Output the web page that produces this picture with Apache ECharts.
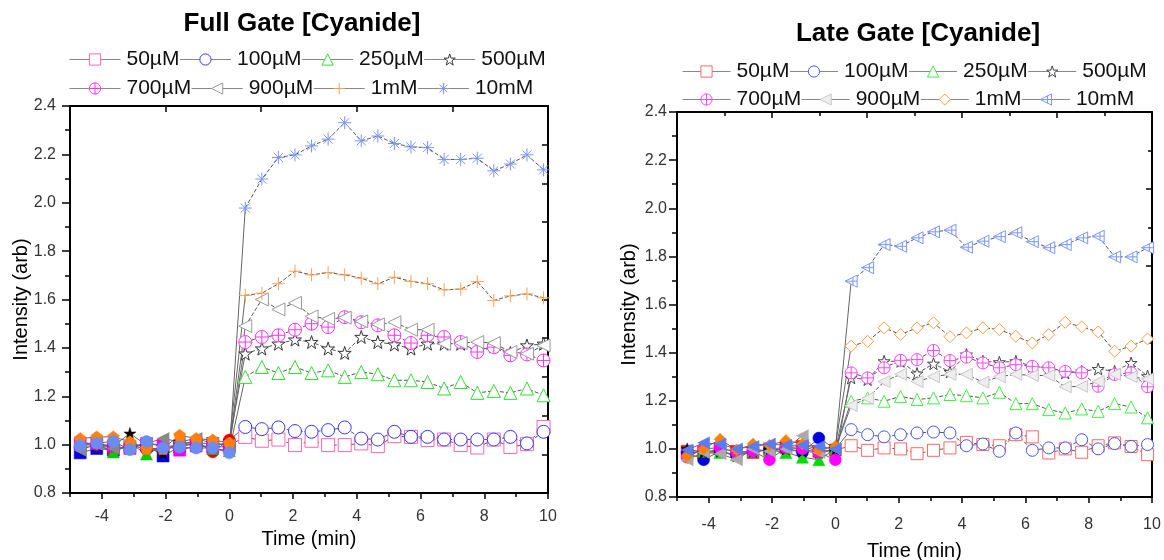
<!DOCTYPE html>
<html><head><meta charset="utf-8">
<script src="https://cdn.jsdelivr.net/npm/echarts@6.0.0/dist/echarts.min.js"></script>
<style>html,body{margin:0;padding:0;background:#fff;}
#l{position:absolute;left:0;top:0;width:600px;height:560px}
#r{position:absolute;left:600px;top:0;width:564px;height:560px}</style>
</head><body><div id="l"></div><div id="r"></div>
<script>
// ---------- DATA ----------
const concentrations = ['50µM','100µM','250µM','500µM','700µM','900µM','1mM','10mM'];
const preTimes  = [-4.68,-4.16,-3.64,-3.12,-2.60,-2.08,-1.56,-1.04,-0.52,0];
const postTimes = [0.50,1.02,1.54,2.06,2.58,3.10,3.62,4.14,4.66,5.18,5.70,6.22,6.74,7.26,7.78,8.30,8.82,9.34,9.86];
const xTickValues = [-4,-2,0,2,4,6,8,10];
const xTickLabels = ['-4','-2','0','2','4','6','8','10'];
const yTickLabels = ['0.8','1.0','1.2','1.4','1.6','1.8','2.0','2.2','2.4'];

// Full Gate: before cyanide (t<=0)
const fullPre50   = [0.966,0.984,0.977,0.991,0.998,0.953,0.991,1.005,1.005,0.998];
const fullPre100  = [0.991,0.998,0.970,0.998,0.980,0.977,1.005,1.012,0.970,1.019];
const fullPre250  = [1.005,1.005,0.970,1.005,0.961,0.991,0.998,1.005,0.984,0.975];
const fullPre500  = [1.012,0.998,0.994,1.046,0.998,0.964,1.012,0.994,0.991,1.012];
const fullPre700  = [1.005,1.005,0.994,0.984,1.005,0.998,0.977,0.994,0.991,0.991];
const fullPre900  = [0.977,1.002,0.984,0.991,1.005,1.025,1.012,1.025,1.005,0.998];
const fullPre1mM  = [1.025,1.032,1.032,1.012,0.984,0.984,1.039,1.025,1.019,1.008];
const fullPre10mM = [0.996,1.006,1.013,0.979,1.013,0.986,0.989,0.986,0.986,0.966];
// Full Gate: after cyanide
const fullPost50   = [1.032,1.016,1.021,0.998,1.016,0.998,0.998,1.005,0.994,1.035,1.032,1.019,1.021,0.998,0.988,1.021,0.990,1.002,1.073];
const fullPost100  = [1.073,1.064,1.071,1.056,1.053,1.060,1.071,1.025,1.021,1.053,1.032,1.032,1.021,1.021,1.021,1.021,1.032,1.005,1.053];
const fullPost250  = [1.280,1.321,1.296,1.321,1.296,1.307,1.280,1.300,1.291,1.266,1.266,1.259,1.232,1.259,1.214,1.222,1.214,1.232,1.204];
const fullPost500  = [1.376,1.397,1.417,1.434,1.424,1.397,1.379,1.445,1.424,1.414,1.397,1.417,1.417,1.417,1.390,1.406,1.379,1.410,1.417];
const fullPost700  = [1.424,1.445,1.452,1.475,1.500,1.486,1.527,1.506,1.493,1.452,1.420,1.452,1.445,1.424,1.383,1.403,1.369,1.373,1.348];
const fullPost900  = [1.490,1.600,1.559,1.586,1.530,1.520,1.525,1.510,1.497,1.506,1.475,1.475,1.417,1.420,1.424,1.420,1.383,1.376,1.410];
const fullPost1mM  = [1.617,1.626,1.665,1.717,1.702,1.711,1.702,1.688,1.665,1.692,1.675,1.665,1.640,1.643,1.674,1.596,1.615,1.623,1.607];
const fullPost10mM = [1.978,2.098,2.187,2.198,2.235,2.263,2.331,2.256,2.276,2.245,2.231,2.228,2.179,2.179,2.184,2.132,2.160,2.198,2.136];

// Late Gate: before cyanide
const latePre50   = [0.990,0.985,1.000,0.990,0.985,1.000,1.005,1.010,0.990,0.995];
const latePre100  = [0.985,0.955,0.990,0.975,0.990,0.995,1.000,0.985,1.045,1.000];
const latePre250  = [0.980,0.990,0.985,0.975,0.990,0.995,0.985,0.965,0.955,1.000];
const latePre500  = [1.000,0.985,0.990,0.970,0.990,0.995,1.000,0.990,0.985,0.995];
const latePre700  = [0.965,1.000,1.005,0.985,0.990,0.955,1.005,1.000,0.985,0.955];
const latePre900  = [0.955,0.985,0.980,0.955,1.000,0.990,1.000,1.055,0.985,1.000];
const latePre1mM  = [0.970,1.000,1.040,0.995,1.020,1.015,1.035,1.020,0.995,1.010];
const latePre10mM = [0.995,1.025,1.020,1.000,1.010,1.020,1.015,1.015,1.010,1.000];
// Late Gate: after cyanide
const latePost50   = [1.013,0.994,1.004,1.000,0.980,0.994,1.004,1.027,1.018,1.013,1.059,1.050,0.983,1.000,0.986,1.013,1.025,1.010,0.976];
const latePost100  = [1.080,1.059,1.050,1.059,1.066,1.070,1.066,1.013,1.020,0.990,1.066,0.994,1.004,1.004,1.038,1.000,1.022,1.010,1.018];
const latePost250  = [1.198,1.212,1.198,1.218,1.205,1.212,1.226,1.221,1.212,1.235,1.188,1.188,1.163,1.149,1.166,1.156,1.188,1.174,1.129];
const latePost500  = [1.295,1.288,1.364,1.364,1.313,1.354,1.320,1.392,1.364,1.360,1.364,1.343,1.337,1.316,1.322,1.332,1.322,1.357,1.302];
const latePost700  = [1.316,1.295,1.337,1.368,1.371,1.409,1.367,1.381,1.357,1.337,1.350,1.343,1.337,1.322,1.316,1.260,1.309,1.316,1.258];
const latePost900  = [1.180,1.210,1.280,1.310,1.280,1.300,1.310,1.310,1.277,1.300,1.310,1.305,1.305,1.258,1.260,1.280,1.310,1.300,1.290];
const latePost1mM  = [1.427,1.447,1.503,1.475,1.503,1.524,1.466,1.482,1.503,1.496,1.468,1.440,1.475,1.526,1.507,1.486,1.406,1.427,1.457];
const latePost10mM = [1.697,1.753,1.849,1.842,1.877,1.902,1.909,1.838,1.863,1.882,1.898,1.861,1.836,1.849,1.877,1.884,1.798,1.798,1.836];

// ---------- STYLE ----------
const FONT = 'Liberation Sans, Arial, sans-serif';
const SYM = {
  square: 'rect', circle: 'circle', triangle: 'triangle', diamond: 'diamond',
  star: 'path://M5,0L6.2,3.6L10,3.6L7,5.9L8.1,9.6L5,7.4L1.9,9.6L3,5.9L0,3.6L3.8,3.6Z',
  circlePlus: 'path://M0,5A5,5,0,1,1,10,5A5,5,0,1,1,0,5ZM5,0L5,10M0,5L10,5',
  triLeft: 'path://M0,5L10,0L10,10Z',
  triLeftPlus: 'path://M0,5L10,0L10,10ZM6.5,1.5L6.5,8.5M0,5L10,5',
  plus: 'path://M5,0L5,10M0,5L10,5',
  asterisk: 'path://M5,0L5,10M0,5L10,5M1.5,1.5L8.5,8.5M8.5,1.5L1.5,8.5',
  pentagon: 'path://M5,0L10,3.8L8.1,10L1.9,10L0,3.8Z'
};

function fmtX(v){ const i = xTickValues.indexOf(Math.round(v)); return i >= 0 ? xTickLabels[i] : ''; }
function fmtY(v){ const r=Math.round(v*10); return (r%2===0) ? (yTickLabels[(r-8)/2] || '') : ''; }

function build(cfg){
  const series = [];
  for (let i=0;i<8;i++){
    series.push({
      type:'line', name: concentrations[i], silent:true, animation:false,
      data: postTimes.map((t,j)=>[t, cfg.post[i][j]]),
      symbol: cfg.postSym[i], symbolSize: cfg.postSize,
      itemStyle:{color: cfg.postFill[i], borderColor: cfg.postColor[i], borderWidth:1},
      lineStyle:{color:'#555', width:1, type:[4,2]},
      emphasis:{disabled:true}
    });
  }
  for (let i=0;i<8;i++){
    series.push({
      type:'line', name:'pre'+i, silent:true, animation:false,
      data: preTimes.map((t,j)=>[t, cfg.pre[i][j]]).concat([{value:[postTimes[0], cfg.post[i][0]], symbol:'none'}]),
      symbol: cfg.preSym[i], symbolSize: cfg.preSize,
      itemStyle:{color: cfg.preColor[i], borderColor: cfg.preColor[i], borderWidth:0.5},
      lineStyle:{color:'#666', width:1},
      emphasis:{disabled:true}
    });
  }
  const axLine = {show:true, onZero:false, lineStyle:{color:'#000', width:2}};
  const legendBase = {
    left: cfg.legendLeft, itemGap: 0, itemWidth: cfg.itemWidth, itemHeight: 14,
    selectedMode:false, padding:[5,0,5,0],
    textStyle:{fontSize:21, color:'#111', fontFamily:FONT, padding:[0,0,0,1]},
    lineStyle:{color:'#888', width:1, type:'solid'},
    itemStyle:{borderWidth:1}
  };
  return {
    animation:false,
    textStyle:{fontFamily:FONT},
    title:{text: cfg.title, left: cfg.titleX, top: cfg.titleY, textAlign:'center', padding:0,
      textStyle:{fontSize:26, fontWeight:'bold', color:'#000', fontFamily:FONT}},
    legend:[
      Object.assign({}, legendBase, {top: cfg.legendTop[0], data: concentrations.slice(0,4)}),
      Object.assign({}, legendBase, {top: cfg.legendTop[1], data: concentrations.slice(4)})
    ],
    grid:{left: cfg.grid.left, top: cfg.grid.top, width: cfg.grid.width, height: cfg.grid.height,
      containLabel:false, outerBoundsMode:'none'},
    xAxis:[
      {type:'value', min:-5, max:10, position:'bottom', axisLine:axLine,
       axisTick:{show:true, length:6, customValues: xTickValues, lineStyle:{color:'#000', width:1.5}},
       axisLabel:{customValues: xTickValues, formatter: fmtX, fontSize:16, color:'#333', margin: cfg.xMargin, fontFamily:FONT},
       splitLine:{show:false},
       name:'Time (min)', nameLocation:'middle', nameGap: cfg.xNameGap,
       nameTextStyle:{fontSize:20, color:'#000', fontFamily:FONT}},
      {type:'value', min:0, max:10, interval: cfg.topInterval, position:'top', axisLine:axLine,
       axisTick:{show:true, inside:true, length:6, lineStyle:{color:'#000', width:1.5}},
       minorTick:{show: cfg.topMinor, splitNumber:2, length:4, lineStyle:{color:'#000', width:1.5}},
       axisLabel:{show:false}, splitLine:{show:false}, minorSplitLine:{show:false}},
      {type:'value', min:-5, max:10, interval:1, position:'bottom', axisLine:{show:false, onZero:false},
       axisTick:{show:true, length:4, lineStyle:{color:'#000', width:1.5}},
       axisLabel:{show:false}, splitLine:{show:false}}
    ],
    yAxis:[
      {type:'value', min:0.8, max:2.4, interval:0.2, position:'left', axisLine:axLine,
       axisTick:{show:true, length:8, lineStyle:{color:'#000', width:1.5}},
       minorTick:{show:true, splitNumber:2, length:5, lineStyle:{color:'#000', width:1.5}},
       axisLabel:{formatter: fmtY, fontSize:16, color:'#333', margin: cfg.yMargin, fontFamily:FONT},
       splitLine:{show:false}, minorSplitLine:{show:false},
       name:'Intensity (arb)', nameLocation:'middle', nameGap: cfg.yNameGap, nameMoveOverlap:false,
       nameTextStyle:{fontSize:20, color:'#000', fontFamily:FONT}},
      {type:'value', min:0, max:10, interval: cfg.rightInterval, position:'right', axisLine:axLine,
       axisTick:{show:true, inside:true, length:6, lineStyle:{color:'#000', width:1.5}},
       minorTick:{show: cfg.rightMinor, splitNumber:2, length:4, lineStyle:{color:'#000', width:1.5}},
       axisLabel:{show:false}, splitLine:{show:false}, minorSplitLine:{show:false}}
    ],
    series: series
  };
}

const left = build({
  title:'Full Gate [Cyanide]', titleX:302, titleY:11,
  legendLeft:69, legendTop:[44,73], itemWidth:51,
  grid:{left:70, top:106, width:478, height:387},
  xMargin:16, yMargin:14, xNameGap:36, yNameGap:39,
  topInterval:2, topMinor:false, rightInterval:1, rightMinor:false,
  post:[fullPost50,fullPost100,fullPost250,fullPost500,fullPost700,fullPost900,fullPost1mM,fullPost10mM],
  pre:[fullPre50,fullPre100,fullPre250,fullPre500,fullPre700,fullPre900,fullPre1mM,fullPre10mM],
  postSym:[SYM.square,SYM.circle,SYM.triangle,SYM.star,SYM.circlePlus,SYM.triLeft,SYM.plus,SYM.asterisk],
  postColor:['#ff66b0','#3333ff','#33dd33','#333333','#ff33ff','#999999','#ffa050','#7a96ff'],
  postFill:['#fff','#fff','#fff','#fff','#fff','#fff','#fff','#fff'],
  postSize:13,
  preSym:[SYM.square,SYM.circle,SYM.triangle,SYM.star,SYM.square,SYM.triLeft,SYM.pentagon,SYM.circle],
  preColor:['#0000ee','#ee0000','#00cc00','#000000','#ee00ee','#888888','#ff8010','#6b8cf0'],
  preSize:12
});
const right = build({
  title:'Late Gate [Cyanide]', titleX:318, titleY:21,
  legendLeft:82, legendTop:[56,84], itemWidth:48,
  grid:{left:77, top:112, width:475, height:385},
  xMargin:20, yMargin:10, xNameGap:44, yNameGap:38,
  topInterval:2, topMinor:true, rightInterval:2, rightMinor:true,
  post:[latePost50,latePost100,latePost250,latePost500,latePost700,latePost900,latePost1mM,latePost10mM],
  pre:[latePre50,latePre100,latePre250,latePre500,latePre700,latePre900,latePre1mM,latePre10mM],
  postSym:[SYM.square,SYM.circle,SYM.triangle,SYM.star,SYM.circlePlus,SYM.triLeft,SYM.diamond,SYM.triLeftPlus],
  postColor:['#ff6666','#4455ee','#44ee44','#444444','#ff44ff','#c8c8c8','#ff9944','#7a96ff'],
  postFill:['#fff','#fff','#fff','#fff','#fff','#eeeeee','#fff','#fff'],
  postSize:12,
  preSym:[SYM.square,SYM.circle,SYM.triangle,SYM.star,SYM.circle,SYM.triLeft,SYM.diamond,SYM.triLeft],
  preColor:['#ee1111','#0000dd','#00dd00','#000000','#ff00ff','#aaaaaa','#ff8000','#5b7cf0'],
  preSize:12
});
echarts.init(document.getElementById('l'), null, {renderer:'canvas'}).setOption(left);
echarts.init(document.getElementById('r'), null, {renderer:'canvas'}).setOption(right);
</script>
</body></html>
